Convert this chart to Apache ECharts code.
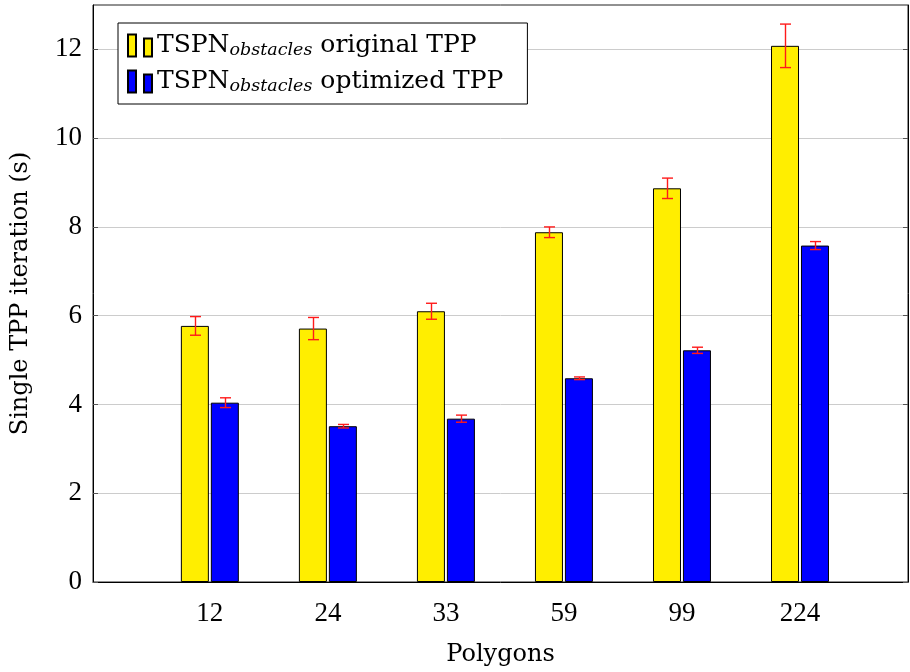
<!DOCTYPE html>
<html>
<head>
<meta charset="utf-8">
<script src="https://cdn.jsdelivr.net/npm/echarts@6/dist/echarts.min.js"></script>
<style>
html,body{margin:0;padding:0;background:#fff;}
#chart{width:910px;height:672px;}
</style>
</head>
<body>
<div id="chart"></div>
<script>
var categories = ['12', '24', '33', '59', '99', '224'];
var originalValues = [5.77, 5.71, 6.10, 7.88, 8.87, 12.08];
var originalErrors = [0.21, 0.25, 0.18, 0.12, 0.23, 0.49];
var optimizedValues = [4.04, 3.51, 3.68, 4.59, 5.22, 7.58];
var optimizedErrors = [0.11, 0.04, 0.08, 0.03, 0.07, 0.09];
var yTicks = [0, 2, 4, 6, 8, 10, 12];

var TEXT_FONT = 'DejaVu Serif';
var NUM_FONT = 'Liberation Serif';
var BAR_W = 28;
var OFFSET = 15;

function barData(vals) {
  return vals.map(function (v, i) { return [i, v]; });
}
function errData(vals, errs) {
  return vals.map(function (v, i) { return [i, v - errs[i], v + errs[i]]; });
}
function errRender(offset) {
  return function (params, api) {
    var x = api.value(0);
    var lo = api.coord([x, api.value(1)]);
    var hi = api.coord([x, api.value(2)]);
    var cx = Math.round(lo[0] + offset) + 0.5;
    var half = 5.5;
    var st = { stroke: '#ff1a1a', lineWidth: 1.4 };
    return {
      type: 'group',
      children: [
        { type: 'line', shape: { x1: cx, y1: lo[1], x2: cx, y2: hi[1] }, style: st },
        { type: 'line', shape: { x1: cx - half, y1: lo[1], x2: cx + half, y2: lo[1] }, style: st },
        { type: 'line', shape: { x1: cx - half, y1: hi[1], x2: cx + half, y2: hi[1] }, style: st }
      ]
    };
  };
}

var chart = echarts.init(document.getElementById('chart'));
var legendRich = {
  a: { fontFamily: TEXT_FONT, fontSize: 25, color: '#000', lineHeight: 30 },
  sub: { fontFamily: TEXT_FONT, fontSize: 17.5, fontStyle: 'italic', color: '#000', padding: [9, 0, 0, 0], lineHeight: 30 }
};
chart.setOption({
  animation: false,
  backgroundColor: '#fff',
  grid: { left: 93, right: 2, top: 5, bottom: 88, show: true, borderColor: '#222', borderWidth: 1, backgroundColor: 'transparent' },
  legend: {
    orient: 'vertical',
    left: 118, top: 23,
    padding: [9, 24, 9, 9],
    itemGap: 9,
    itemWidth: 24, itemHeight: 22,
    backgroundColor: '#fff',
    borderColor: '#000', borderWidth: 1,
    icon: 'path://M0,0h8v22h-8z M16,4h8v18h-8z',
    data: ['TSPN_obstacles original TPP', 'TSPN_obstacles optimized TPP'],
    formatter: function (name) {
      var rest = name.replace('TSPN_obstacles', '');
      return '{a|TSPN}{sub|obstacles}{a|' + rest + '}';
    },
    textStyle: { rich: legendRich, fontFamily: TEXT_FONT, fontSize: 25 }
  },
  xAxis: {
    type: 'value',
    min: -0.99, max: 5.915,
    axisLine: { show: true, onZero: false, lineStyle: { color: '#000', width: 1 } },
    axisTick: { show: false },
    splitLine: { show: false },
    axisLabel: {
      customValues: [0, 1, 2, 3, 4, 5],
      formatter: function (v) { return categories[Math.round(v)]; },
      fontFamily: NUM_FONT, fontSize: 27, color: '#000', margin: 18
    },
    name: 'Polygons',
    nameLocation: 'middle',
    nameGap: 61,
    nameTextStyle: { fontFamily: TEXT_FONT, fontSize: 24, color: '#000' }
  },
  yAxis: [{
    type: 'value',
    min: 0, max: 13, interval: 2,
    axisLine: { show: true, onZero: false, lineStyle: { color: '#000' } },
    axisTick: { show: true, inside: true, length: 5, lineStyle: { color: '#555' }, customValues: yTicks },
    axisLabel: { customValues: yTicks, fontFamily: NUM_FONT, fontSize: 27, color: '#000', margin: 11 },
    splitLine: { show: true, lineStyle: { color: '#cccccc', width: 1 } },
    name: 'Single TPP iteration (s)',
    nameLocation: 'middle',
    nameGap: 60,
    nameTextStyle: { fontFamily: TEXT_FONT, fontSize: 24, color: '#000' }
  }, {
    type: 'value',
    position: 'right',
    min: 0, max: 13, interval: 2,
    axisLine: { show: true, onZero: false, lineStyle: { color: '#000' } },
    axisTick: { show: true, inside: true, length: 5, lineStyle: { color: '#555' }, customValues: yTicks },
    axisLabel: { show: false },
    splitLine: { show: false }
  }],
  series: [{
    name: 'TSPN_obstacles original TPP',
    type: 'bar',
    barWidth: BAR_W,
    barGap: '7%',
    itemStyle: { color: '#ffee00', borderColor: '#000', borderWidth: 1 },
    data: barData(originalValues),
    z: 2
  }, {
    name: 'TSPN_obstacles optimized TPP',
    type: 'bar',
    barWidth: BAR_W,
    barGap: '7%',
    itemStyle: { color: '#0000ff', borderColor: '#000', borderWidth: 1 },
    data: barData(optimizedValues),
    z: 2
  }, {
    type: 'custom',
    name: 'errOrig',
    renderItem: errRender(-OFFSET),
    encode: { x: 0, y: [1, 2] },
    data: errData(originalValues, originalErrors),
    z: 5
  }, {
    type: 'custom',
    name: 'errOpt',
    renderItem: errRender(OFFSET),
    encode: { x: 0, y: [1, 2] },
    data: errData(optimizedValues, optimizedErrors),
    z: 5
  }]
});
</script>
</body>
</html>
